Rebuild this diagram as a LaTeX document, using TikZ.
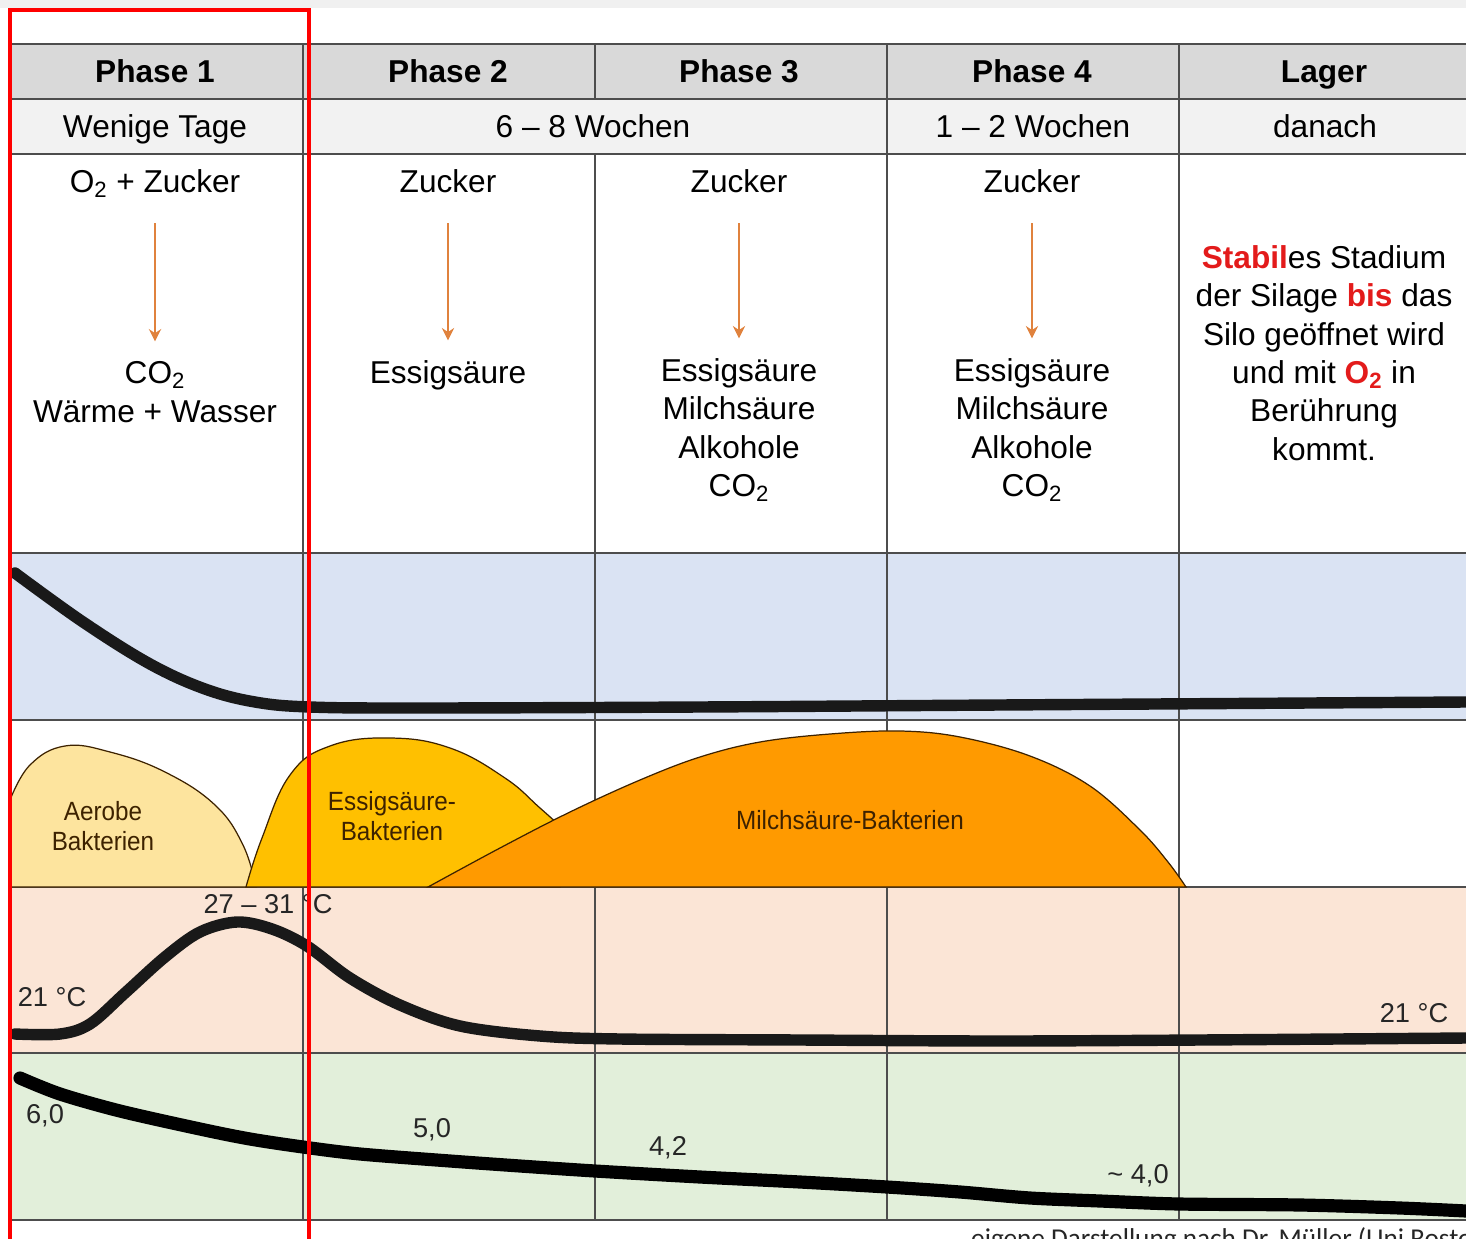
\documentclass[tikz,border=0pt]{standalone}
\usepackage{fontspec}
\setmainfont{Liberation Sans}
\newfontfamily\narrowfont[FakeStretch=0.92]{Liberation Sans}
\newfontfamily\footfont{Carlito}
\usetikzlibrary{positioning, arrows.meta}

\definecolor{headgray}{HTML}{D9D9D9}
\definecolor{rowgray}{HTML}{F2F2F2}
\definecolor{topgray}{HTML}{F0F0F0}
\definecolor{oxyblue}{HTML}{DAE3F3}
\definecolor{tempred}{HTML}{FBE5D6}
\definecolor{phgreen}{HTML}{E2EFDA}
\definecolor{aerobc}{HTML}{FDE49E}
\definecolor{essigc}{HTML}{FFC000}
\definecolor{milchc}{HTML}{FF9A00}
\definecolor{bactc}{HTML}{3D2200}
\definecolor{arrowc}{HTML}{E0823D}
\definecolor{gridc}{HTML}{4D4D4D}
\definecolor{warnred}{HTML}{E31B1B}

\begin{document}
\begin{tikzpicture}[x=0.02cm, y=-0.02cm, >=Stealth,
    grid/.style={draw=gridc, line width=1pt},
    head/.style={font=\bfseries\fontsize{18}{21.8}\selectfont,
                 text height=13pt, text depth=0pt},
    cell/.style={font=\fontsize{18}{21.8}\selectfont, align=center},
    oneline/.style={cell, text height=13pt, text depth=0pt},
    flow/.style={-{Stealth[length=7pt, width=7pt]}, draw=arrowc,
                 line width=1.6pt, shorten <=14pt, shorten >=8pt},
    curve/.style={draw=black!90, line width=6.5pt, line cap=round, line join=round},
    hump/.style={draw=bactc, line width=0.7pt},
    bact/.style={font=\narrowfont\fontsize{15}{17.5}\selectfont, text=bactc, align=center},
    val/.style={font=\fontsize{15.5}{18}\selectfont, text=black!85}]
  \useasboundingbox (0,0) rectangle (1466,1239);

  % bands
  \fill[topgray] (0,0) rectangle (1466,8);
  \fill[headgray] (8,44) rectangle (1466,99);
  \fill[rowgray] (8,99) rectangle (1466,154);
  \fill[oxyblue] (8,553) rectangle (1466,720);
  \fill[tempred] (8,887) rectangle (1466,1053);
  \fill[phgreen] (8,1053) rectangle (1466,1220);

  % grid
  \foreach \y in {44,99,154,553,720,887,1053,1220}
    \draw[grid] (8,\y) -- (1466,\y);
  \foreach \x in {303,887,1179}
    \draw[grid] (\x,44) -- (\x,1220);
  \draw[grid] (595,44) -- (595,99) (595,154) -- (595,1220);

  % header
  \node[head] (ph1) at (155,71) {Phase 1};
  \node[head] (ph2) at (448,71) {Phase 2};
  \node[head] (ph3) at (739,71) {Phase 3};
  \node[head] (ph4) at (1032,71) {Phase 4};
  \node[head] (lag) at (1324,71) {Lager};
  \node[oneline] (t1) at (155,126) {Wenige Tage};
  \node[oneline] (t23) at (593,126) {6 -- 8 Wochen};
  \node[oneline] (t4) at (1033,126) {1 -- 2 Wochen};
  \node[oneline] (t5) at (1325,126) {danach};

  % reactions
  \node[oneline] (z1) at (155,181) {O\textsubscript{2} + Zucker};
  \node[oneline] (z2) at (448,181) {Zucker};
  \node[oneline] (z3) at (739,181) {Zucker};
  \node[oneline] (z4) at (1032,181) {Zucker};
  \node[cell] (p1) at (155,392) {CO\textsubscript{2}\\Wärme + Wasser};
  \node[oneline] (p2) at (448,372) {Essigsäure};
  \node[cell] (p3) at (739,430) {Essigsäure\\Milchsäure\\Alkohole\\CO\textsubscript{2}};
  \node[cell] (p4) at (1032,430) {Essigsäure\\Milchsäure\\Alkohole\\CO\textsubscript{2}};
  \draw[flow] (z1) -- (p1);
  \draw[flow] (z2) -- (p2);
  \draw[flow] (z3) -- (p3);
  \draw[flow] (z4) -- (p4);
  \node[cell] (stab) at (1324,353)
    {\textcolor{warnred}{\bfseries Stabil}es Stadium\\
     der Silage \textcolor{warnred}{\bfseries bis} das\\
     Silo geöffnet wird\\
     und mit \textcolor{warnred}{\bfseries O\textsubscript{2}} in\\
     Berührung\\kommt.};

  % oxygen
  \draw[curve] plot[smooth, tension=0.6] coordinates
    {(15,573) (83,622) (150,664) (205,689) (255,702) (310,707) (420,708) (700,707)
     (1000,705) (1466,702)};

  % bacteria
  \draw[hump, fill=aerobc] plot[smooth, tension=0.7] coordinates
    {(10,800) (30,765) (65,746) (110,752) (165,772) (215,805) (243,845) (256,887)}
    -- (10,887) -- cycle;
  \draw[hump, fill=essigc] plot[smooth, tension=0.7] coordinates
    {(246,887) (262,838) (290,775) (330,746) (390,738) (450,748) (505,778) (540,808) (570,835)}
    -- (560,887) -- cycle;
  \draw[hump, fill=milchc] plot[smooth, tension=0.6] coordinates
    {(428,887) (500,848) (570,812) (640,780) (700,757) (760,742) (830,734) (900,731)
     (960,737) (1030,756) (1090,786) (1140,830) (1168,862) (1186,887)} -- cycle;
  \node[bact] (aer) at (103,826) {Aerobe\\Bakterien};
  \node[bact] (ess) at (392,816) {Essigsäure-\\Bakterien};
  \node[bact] (mil) at (850,820) {Milchsäure-Bakterien};

  % temperature
  \draw[curve] plot[smooth, tension=0.55] coordinates
    {(15,1034) (60,1034) (90,1024) (125,993) (165,957) (200,932) (237,922) (272,929)
     (307,946) (350,978) (400,1005) (460,1026) (540,1036) (620,1039) (800,1040)
     (1000,1041) (1200,1040) (1466,1038)};
  \node[val] (tmax) at (268,904) {27 -- 31 °C};
  \node[val] (tlow) at (52,997) {21 °C};
  \node[val] (tend) at (1414,1013) {21 °C};

  % pH
  \draw[curve, line width=7.5pt, draw=black] plot[smooth, tension=0.5] coordinates
    {(20,1078) (60,1094) (120,1111) (200,1129) (250,1139) (303,1147) (360,1154)
     (450,1161) (520,1166) (595,1171) (700,1177) (800,1182) (887,1187) (960,1192)
     (1030,1198) (1100,1201) (1179,1204) (1300,1205) (1400,1208) (1466,1211)};
  \node[val] (ph60) at (45,1116) {6,0};
  \node[val] (ph50) at (432,1130) {5,0};
  \node[val] (ph42) at (668,1148) {4,2};
  \node[val] (ph40) at (1138,1176) {\textasciitilde{} 4,0};

  % source and frame
  \node[font=\footfont\fontsize{15.5}{18}\selectfont, anchor=base west, text=black!85]
    (src) at (965,1247) {eigene Darstellung nach Dr.~Müller (Uni Rostock)};
  \draw[red, line width=2.3pt] (10,10) rectangle (309,1260);
\end{tikzpicture}
\end{document}
